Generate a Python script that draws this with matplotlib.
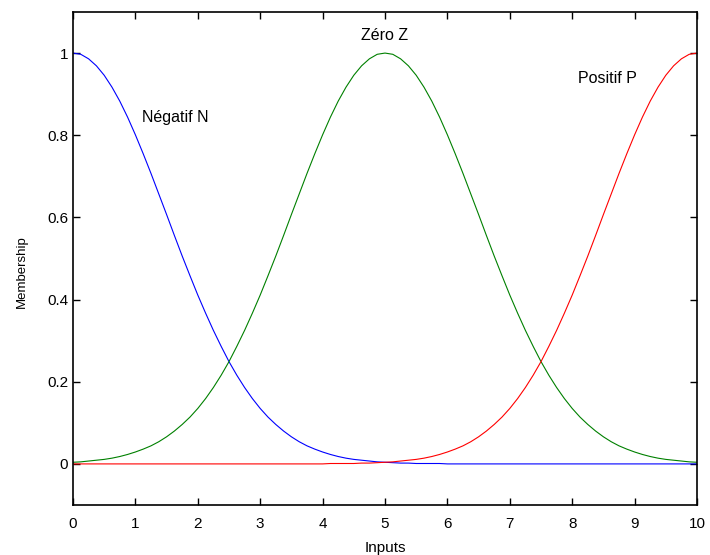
import matplotlib
matplotlib.use('Agg')
import matplotlib.pyplot as plt

# inputs sampled every 0.125 from 0 to 10
inputs = [i * 0.125 for i in range(81)]

negatif_n = [1.000, 0.997, 0.986, 0.969, 0.946, 0.917, 0.883, 0.844, 0.801, 0.755,
             0.707, 0.657, 0.607, 0.556, 0.506, 0.458, 0.411, 0.367, 0.325, 0.286,
             0.249, 0.216, 0.186, 0.159, 0.135, 0.114, 0.096, 0.080, 0.066, 0.054,
             0.044, 0.036, 0.029, 0.023, 0.018, 0.014, 0.011, 0.009, 0.007, 0.005,
             0.004, 0.003, 0.002, 0.002, 0.001, 0.001, 0.001, 0.001, 0.000, 0.000,
             0.000, 0.000, 0.000, 0.000, 0.000, 0.000, 0.000, 0.000, 0.000, 0.000,
             0.000, 0.000, 0.000, 0.000, 0.000, 0.000, 0.000, 0.000, 0.000, 0.000,
             0.000, 0.000, 0.000, 0.000, 0.000, 0.000, 0.000, 0.000, 0.000, 0.000,
             0.000]
zero_z = [0.004, 0.005, 0.007, 0.009, 0.011, 0.014, 0.018, 0.023, 0.029, 0.036,
          0.044, 0.054, 0.066, 0.080, 0.096, 0.114, 0.135, 0.159, 0.186, 0.216,
          0.249, 0.286, 0.325, 0.367, 0.411, 0.458, 0.506, 0.556, 0.607, 0.657,
          0.707, 0.755, 0.801, 0.844, 0.883, 0.917, 0.946, 0.969, 0.986, 0.997,
          1.000, 0.997, 0.986, 0.969, 0.946, 0.917, 0.883, 0.844, 0.801, 0.755,
          0.707, 0.657, 0.607, 0.556, 0.506, 0.458, 0.411, 0.367, 0.325, 0.286,
          0.249, 0.216, 0.186, 0.159, 0.135, 0.114, 0.096, 0.080, 0.066, 0.054,
          0.044, 0.036, 0.029, 0.023, 0.018, 0.014, 0.011, 0.009, 0.007, 0.005,
          0.004]
positif_p = [0.000, 0.000, 0.000, 0.000, 0.000, 0.000, 0.000, 0.000, 0.000, 0.000,
             0.000, 0.000, 0.000, 0.000, 0.000, 0.000, 0.000, 0.000, 0.000, 0.000,
             0.000, 0.000, 0.000, 0.000, 0.000, 0.000, 0.000, 0.000, 0.000, 0.000,
             0.000, 0.000, 0.000, 0.001, 0.001, 0.001, 0.001, 0.002, 0.002, 0.003,
             0.004, 0.005, 0.007, 0.009, 0.011, 0.014, 0.018, 0.023, 0.029, 0.036,
             0.044, 0.054, 0.066, 0.080, 0.096, 0.114, 0.135, 0.159, 0.186, 0.216,
             0.249, 0.286, 0.325, 0.367, 0.411, 0.458, 0.506, 0.556, 0.607, 0.657,
             0.707, 0.755, 0.801, 0.844, 0.883, 0.917, 0.946, 0.969, 0.986, 0.997,
             1.000]

labels = ['Négatif N', 'Zéro Z', 'Positif P']
label_pos = [(1.1, 0.843, 'left'), (5.0, 1.042, 'center'), (8.1, 0.937, 'left')]
x_ticks = list(range(11))
y_ticks = [0, 0.2, 0.4, 0.6, 0.8, 1]
y_ticklabels = ['0', '0.2', '0.4', '0.6', '0.8', '1']

plt.rcParams['font.family'] = ['Liberation Sans', 'DejaVu Sans']

fig = plt.figure(figsize=(7.1, 5.55), dpi=100)
ax = fig.add_axes([0.1028, 0.0901, 0.8789, 0.8883])

ax.plot(inputs, negatif_n, color=(0, 0, 1), lw=0.8)
ax.plot(inputs, zero_z, color=(0, 0.5, 0), lw=0.8)
ax.plot(inputs, positif_p, color=(1, 0, 0), lw=0.8)

for lab, (x, y, ha) in zip(labels, label_pos):
    ax.text(x, y, lab, ha=ha, va='center', fontsize=11.5)

ax.set_xlim(0, 10)
ax.set_ylim(-0.1, 1.1)
ax.set_xticks(x_ticks)
ax.set_yticks(y_ticks)
ax.set_yticklabels(y_ticklabels)
ax.tick_params(direction='in', top=True, right=True, length=5, width=1, labelsize=11)
ax.tick_params(axis='x', pad=9)
for s in ax.spines.values():
    s.set_linewidth(1.2)

ax.set_xlabel('Inputs', fontsize=11, labelpad=7)
ax.set_ylabel('Membership', fontsize=9.5)
ax.yaxis.set_label_coords(-0.072, 0.473)

fig.savefig('out.png', dpi=100)
